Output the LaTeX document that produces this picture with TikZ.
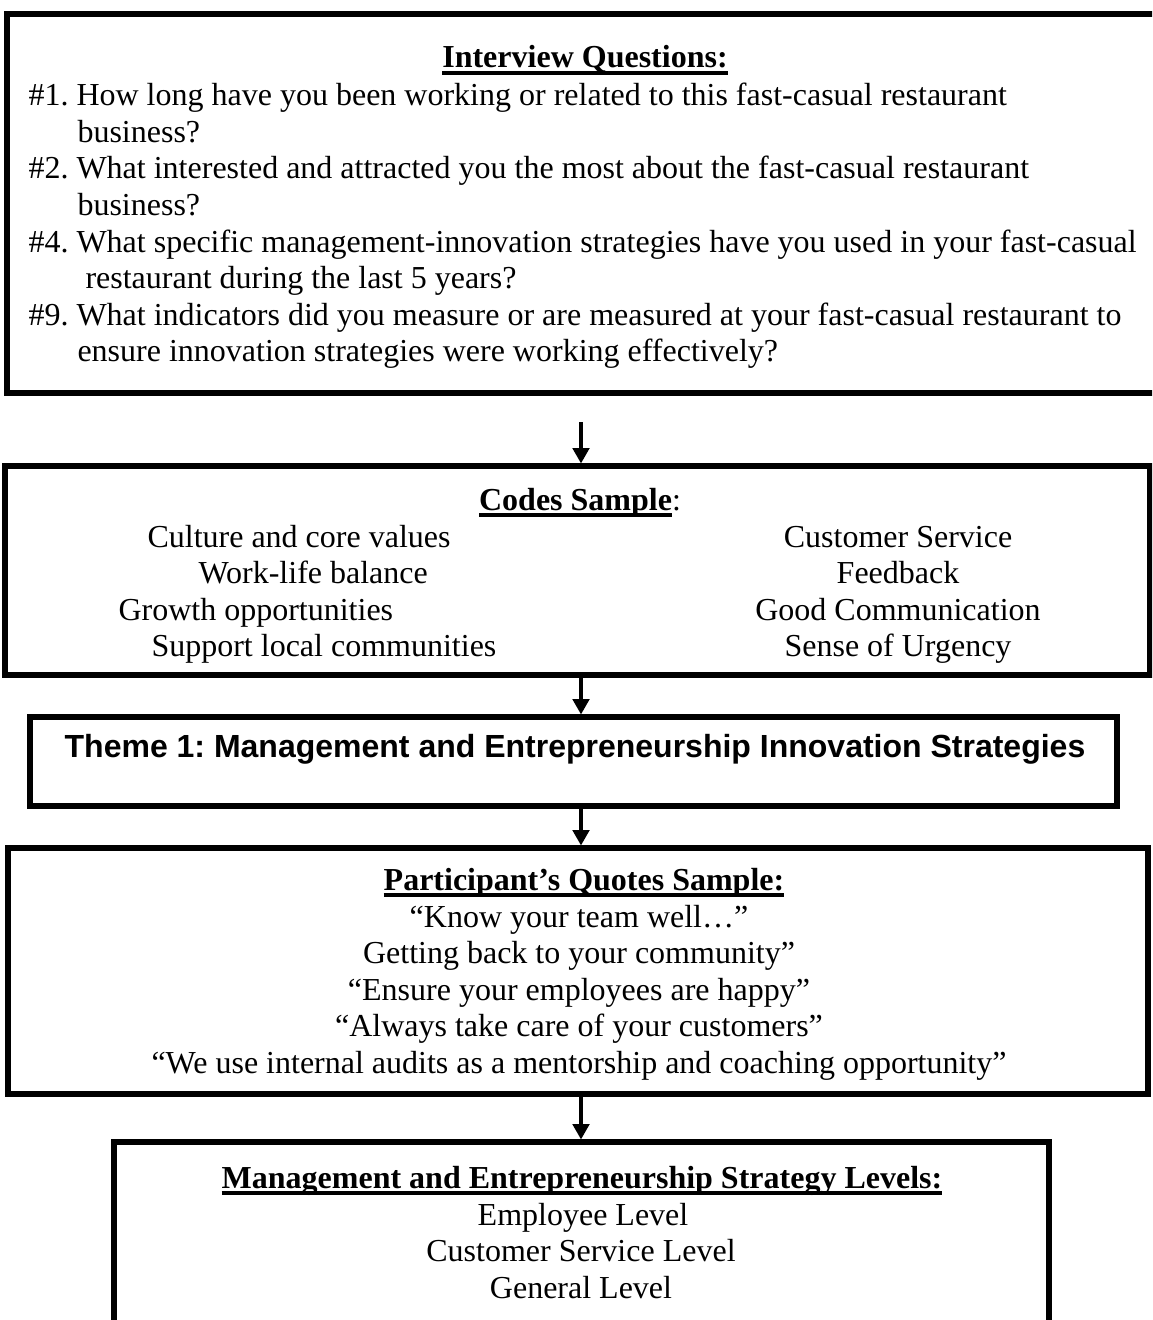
\documentclass[tikz,border=0pt]{standalone}
\usepackage{fontspec}
\setmainfont{Liberation Serif}
\newfontfamily\arialfont{Liberation Sans}
\usetikzlibrary{arrows.meta,fit}
\frenchspacing
\newcommand\thickul[1]{\leavevmode\setbox0\hbox{#1}\rlap{\rule[-2.6pt]{\wd0}{1.5pt}}\box0}
\tikzset{
  frame/.style={draw, line width=1.9pt, inner sep=0pt},
  txt/.style={anchor=base west, inner sep=0pt, font=\fontsize{12}{13.7}\selectfont\frenchspacing},
  ctxt/.style={anchor=base, inner sep=0pt, font=\fontsize{12}{13.7}\selectfont\frenchspacing},
  arr/.style={line width=1.3pt, -{Triangle[length=5.8pt,width=6.2pt]}}
}
\begin{document}
\begin{tikzpicture}[x=0.375pt,y=-0.375pt]
\useasboundingbox (0,0) rectangle (1152,1320);
\clip (0,0) rectangle (1152,1320);
% boxes
\node[frame, fit={(7,14) (1165,393)}] (b1) {};
\node[frame, fit={(5,466) (1150,675)}] (b2) {};
\node[frame, fit={(30,717) (1117,806)}] (b3) {};
\node[frame, fit={(8,848) (1148,1094)}] (b4) {};
\node[frame, fit={(114,1142) (1049,1340)}] (b5) {};
% arrows
\coordinate (a1) at (581,422);
\draw[arr] (a1) -- (b2.north -| a1);
\draw[arr] (b2.south -| a1) -- (b3.north -| a1);
\draw[arr] (b3.south -| a1) -- (b4.north -| a1);
\draw[arr] (b4.south -| a1) -- (b5.north -| a1);
% box 1
\node[ctxt] (q0) at (585,68) {\bfseries\thickul{Interview Questions:}};
\node[txt] (q1a) at (28,106) {\#1. How long have you been working or related to this fast-casual restaurant};
\node[txt] (q1b) at (77,142.5) {business?};
\node[txt] (q2a) at (28,179) {\#2. What interested and attracted you the most about the fast-casual restaurant};
\node[txt] (q2b) at (77,215.5) {business?};
\node[txt] (q4a) at (28,252) {\#4. What specific management-innovation strategies have you used in your fast-casual};
\node[txt] (q4b) at (85,288.5) {restaurant during the last 5 years?};
\node[txt] (q9a) at (28,325) {\#9. What indicators did you measure or are measured at your fast-casual restaurant to};
\node[txt] (q9b) at (77,361.5) {ensure innovation strategies were working effectively?};
% box 2
\node[ctxt] (c0) at (580,510) {\textbf{\thickul{Codes Sample}}:};
\node[txt] (c1) at (147,547) {Culture and core values};
\node[txt] (c2) at (198,583.5) {Work-life balance};
\node[txt] (c3) at (118,620) {Growth opportunities};
\node[txt] (c4) at (151,656.5) {Support local communities};
\node[ctxt] (c5) at (898,547) {Customer Service};
\node[ctxt] (c6) at (898,583.5) {Feedback};
\node[ctxt] (c7) at (898,620) {Good Communication};
\node[ctxt] (c8) at (898,656.5) {Sense of Urgency};
% box 3
\node[ctxt] (t1) at (575,757) {\arialfont\bfseries Theme 1: Management and Entrepreneurship Innovation Strategies};
% box 4
\node[ctxt] (p0) at (584,890) {\bfseries\thickul{Participant’s Quotes Sample:}};
\node[ctxt] (p1) at (579,927) {“Know your team well…”};
\node[ctxt] (p2) at (579,963.5) {Getting back to your community”};
\node[ctxt] (p3) at (579,1000) {“Ensure your employees are happy”};
\node[ctxt] (p4) at (579,1036.5) {“Always take care of your customers”};
\node[ctxt] (p5) at (579,1073) {“We use internal audits as a mentorship and coaching opportunity”};
% box 5
\node[ctxt] (m0) at (582,1188) {\bfseries\thickul{Management and Entrepreneurship Strategy Levels:}};
\node[ctxt] (m1) at (583,1225) {Employee Level};
\node[ctxt] (m2) at (581,1261.5) {Customer Service Level};
\node[ctxt] (m3) at (581,1298) {General Level};
\end{tikzpicture}
\end{document}
